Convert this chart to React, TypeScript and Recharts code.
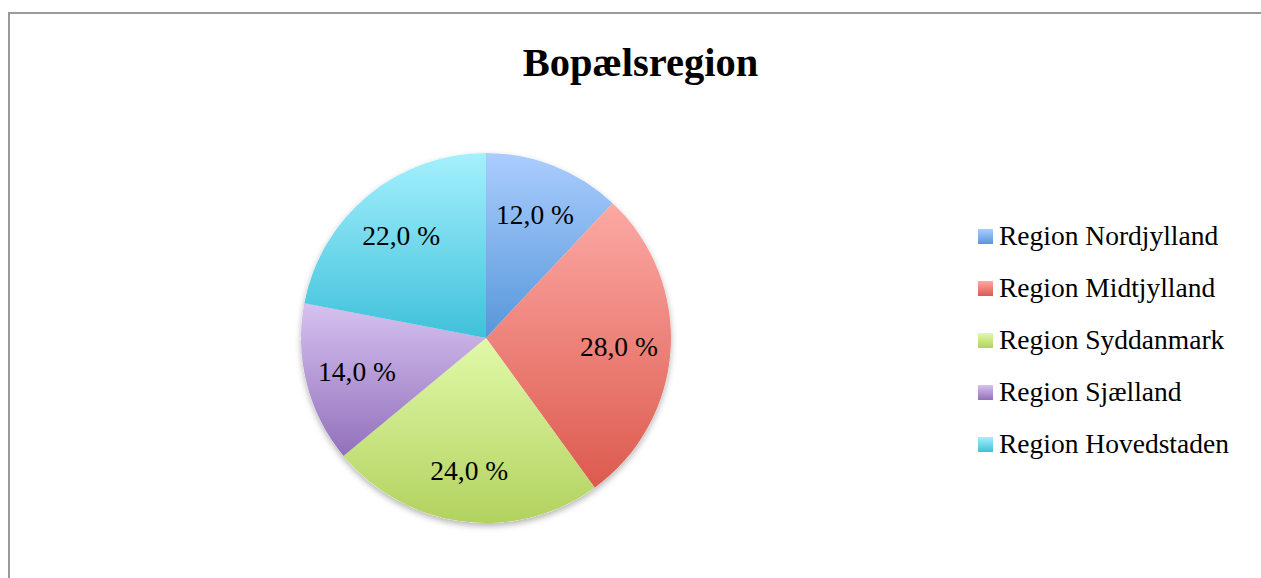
import React from "react";
import { Cell, Legend, Pie, PieChart } from "recharts";

const regions = [
  "Region Nordjylland",
  "Region Midtjylland",
  "Region Syddanmark",
  "Region Sjælland",
  "Region Hovedstaden",
];
const shares = [12, 28, 24, 14, 22];

// top / bottom colour of each slice's vertical gradient
const lightColors = ["#abcdfe", "#fca9a4", "#e1f9a9", "#d6c2f0", "#a5f0fd"];
const darkColors = ["#5797da", "#dc5a4e", "#b2d25f", "#9270bb", "#3fc1da"];

const data = regions.map((name, i) => ({ name, value: shares[i] }));

const FONT = '"Liberation Serif", "DejaVu Serif", serif';
const RADIAN = Math.PI / 180;

const renderLabel = (props: any) => {
  const { cx, cy, midAngle, outerRadius, value } = props;
  const r = outerRadius * 0.72;
  const x = cx + r * Math.cos(-midAngle * RADIAN);
  const y = cy + r * Math.sin(-midAngle * RADIAN);
  return (
    <text
      x={x}
      y={y}
      textAnchor="middle"
      dominantBaseline="central"
      fontFamily={FONT}
      fontSize={27.5}
      fill="#000"
    >
      {value.toFixed(1).replace(".", ",") + " %"}
    </text>
  );
};

const renderLegend = () => (
  <div style={{ fontFamily: FONT, fontSize: 27.5, color: "#000" }}>
    {regions.map((name, i) => (
      <div
        key={name}
        style={{ display: "flex", alignItems: "center", height: 52 }}
      >
        <span
          style={{
            width: 15,
            height: 15,
            marginRight: 6,
            background: `linear-gradient(${lightColors[i]}, ${darkColors[i]})`,
          }}
        />
        <span>{name}</span>
      </div>
    ))}
  </div>
);

export default function App() {
  return (
    <div
      style={{
        position: "absolute",
        left: 0,
        top: 0,
        width: 1261,
        height: 578,
        background: "#fff",
        overflow: "hidden",
      }}
    >
      <div
        style={{
          position: "absolute",
          left: 8,
          top: 12,
          width: 1400,
          height: 700,
          borderLeft: "2px solid #9a9a9a",
          borderTop: "2px solid #9a9a9a",
        }}
      />
      <div
        style={{
          position: "absolute",
          left: 0,
          top: 40,
          width: 1281,
          textAlign: "center",
          fontFamily: FONT,
          fontWeight: "bold",
          fontSize: 40.5,
          lineHeight: "46px",
        }}
      >
        Bopælsregion
      </div>
      <div style={{ position: "absolute", left: 0, top: 0 }}>
        <PieChart
          width={1261}
          height={578}
          margin={{ top: 0, right: 0, bottom: 0, left: 0 }}
        >
          <defs>
            {lightColors.map((c, i) => (
              <linearGradient key={i} id={`grad${i}`} x1="0" y1="0" x2="0" y2="1">
                <stop offset="0%" stopColor={c} />
                <stop offset="100%" stopColor={darkColors[i]} />
              </linearGradient>
            ))}
            <filter id="pieShadow" x="-10%" y="-10%" width="120%" height="125%">
              <feDropShadow dx="0" dy="3" stdDeviation="3" floodColor="#000" floodOpacity="0.3" />
            </filter>
          </defs>
          {/* shadow underlay */}
          <Pie
            data={data}
            dataKey="value"
            nameKey="name"
            cx={486}
            cy={338}
            outerRadius={185}
            startAngle={90}
            endAngle={-270}
            stroke="none"
            fill="#fff"
            legendType="none"
            isAnimationActive={false}
            style={{ filter: "url(#pieShadow)" }}
          />
          <Pie
            data={data}
            dataKey="value"
            nameKey="name"
            cx={486}
            cy={338}
            outerRadius={185}
            startAngle={90}
            endAngle={-270}
            stroke="none"
            isAnimationActive={false}
            label={renderLabel}
            labelLine={false}
          >
            {data.map((d, i) => (
              <Cell key={d.name} fill={`url(#grad${i})`} />
            ))}
          </Pie>
          <Legend
            layout="vertical"
            align="right"
            verticalAlign="top"
            content={renderLegend}
            wrapperStyle={{ left: 978, top: 210, width: 280 }}
          />
        </PieChart>
      </div>
    </div>
  );
}
